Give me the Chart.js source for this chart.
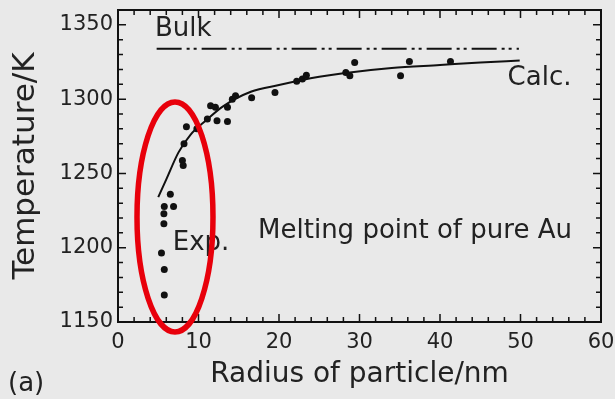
<!DOCTYPE html>
<html>
<head>
<meta charset="utf-8">
<script src="https://cdn.jsdelivr.net/npm/chart.js@4.4.0/dist/chart.umd.min.js"></script>
<style>
body{margin:0;background:#e9e9e9;}
</style>
</head>
<body>
<canvas id="mycanvas" width="615" height="399"></canvas>
<script>
// experimental points (radius nm, temperature K)
var expR = [5.4, 5.75, 5.75, 5.7, 5.7, 5.75, 6.9, 6.5, 8.0, 8.1, 8.2, 8.5, 9.8, 11.1, 11.5, 12.1, 12.3, 13.6, 13.6, 14.2, 14.6, 16.6, 19.5, 22.2, 22.9, 23.4, 28.3, 28.8, 29.4, 35.1, 36.2, 41.3];
var expT = [1196.5, 1185.4, 1168.1, 1216.2, 1222.9, 1227.8, 1227.8, 1236, 1258.7, 1255.3, 1270, 1281.5, 1280, 1286.7, 1295.6, 1294.5, 1285.5, 1285, 1294.5, 1300, 1302.3, 1301, 1304.5, 1312, 1313.5, 1316, 1318, 1315.8, 1324.7, 1315.8, 1325.3, 1325.3];
// calculated curve
var calcR = [5, 6, 7.5, 9, 11, 13, 16.5, 20, 25, 28, 34, 40, 45, 49.9];
var calcT = [1234, 1246, 1264, 1276, 1286, 1295, 1305, 1309.5, 1315, 1317.5, 1321, 1323, 1324.7, 1326];
// bulk melting point
var bulkR = [4.8, 49.8];
var bulkT = [1334, 1334];
var xTicks = [0, 10, 20, 30, 40, 50, 60];
var yTicks = [1150, 1200, 1250, 1300, 1350];

var notes = [
    {text: 'Bulk', x: 4.6, y: 1347},
    {text: 'Calc.', x: 48.4, y: 1314},
    {text: 'Exp.', x: 6.8, y: 1203},
    {text: 'Melting point of pure Au', x: 17.4, y: 1211}
];

function pts(xs, ys){
    var out = [];
    for (var i in xs) out.push({x: xs[i], y: ys[i]});
    return out;
}

var decor = {
    id: 'decor',
    beforeDraw: function(chart){
        var ctx = chart.ctx;
        ctx.save();
        ctx.fillStyle = '#e9e9e9';
        ctx.fillRect(0, 0, chart.width, chart.height);
        ctx.restore();
    },
    afterDatasetsDraw: function(chart){
        var ctx = chart.ctx, a = chart.chartArea, sx = chart.scales.x, sy = chart.scales.y;
        ctx.save();
        ctx.strokeStyle = '#111';
        ctx.lineWidth = 2;
        ctx.strokeRect(a.left, a.top, a.right - a.left, a.bottom - a.top);
        ctx.lineWidth = 1.5;
        ctx.beginPath();
        for (var v = 0; v <= 60; v += 2) {
            var px = sx.getPixelForValue(v);
            var len = v % 10 == 0 ? 8 : 5;
            ctx.moveTo(px, a.bottom); ctx.lineTo(px, a.bottom - len);
            ctx.moveTo(px, a.top); ctx.lineTo(px, a.top + len);
        }
        for (var t = 1150; t <= 1360; t += 10) {
            var py = sy.getPixelForValue(t);
            var l2 = t % 50 == 0 ? 8 : 5;
            ctx.moveTo(a.left, py); ctx.lineTo(a.left + l2, py);
            ctx.moveTo(a.right, py); ctx.lineTo(a.right - l2, py);
        }
        ctx.stroke();

        // annotations
        ctx.fillStyle = '#222';
        ctx.font = '26px "DejaVu Sans"';
        ctx.textBaseline = 'middle';
        ctx.textAlign = 'left';
        notes.forEach(function(n){
            ctx.fillText(n.text, sx.getPixelForValue(n.x), sy.getPixelForValue(n.y));
        });
        ctx.fillText('(a)', 8, 384);

        // red ellipse round the small particles
        var cx = sx.getPixelForValue(7.08), cy = sy.getPixelForValue(1220.7);
        var rx = sx.getPixelForValue(7.08 + 4.72) - cx;
        var ry = cy - sy.getPixelForValue(1220.7 + 77.4);
        ctx.strokeStyle = '#e8000b';
        ctx.lineWidth = 5.5;
        ctx.beginPath();
        ctx.ellipse(cx, cy, rx, ry, 0, 0, Math.PI * 2);
        ctx.stroke();
        ctx.restore();
    }
};

var ctx = document.getElementById('mycanvas');
var chart = new Chart(ctx, {
    type: 'scatter',
    data: {
        datasets: [
            {
                label: 'Bulk',
                type: 'line',
                data: pts(bulkR, bulkT),
                borderColor: '#111',
                borderWidth: 2,
                borderDash: [25, 5, 3, 4, 3, 5],
                pointRadius: 0,
                fill: false
            },
            {
                label: 'Calc.',
                type: 'line',
                data: pts(calcR, calcT),
                borderColor: '#111',
                borderWidth: 2,
                cubicInterpolationMode: 'monotone',
                pointRadius: 0,
                fill: false
            },
            {
                label: 'Exp.',
                data: pts(expR, expT),
                backgroundColor: '#111',
                borderColor: '#111',
                pointRadius: 3.5,
                pointBorderWidth: 0
            }
        ]
    },
    options: {
        responsive: false,
        animation: false,
        layout: {padding: {top: 10, right: 14, left: 0, bottom: 0}},
        plugins: {legend: {display: false}, tooltip: {enabled: false}},
        scales: {
            x: {
                type: 'linear', min: 0, max: 60,
                afterBuildTicks: function(s){ s.ticks = xTicks.map(function(v){ return {value: v}; }); },
                afterFit: function(s){ s.height = 77; s.paddingLeft = 0; s.paddingRight = 0; },
                grid: {display: false, drawTicks: false},
                border: {display: false},
                ticks: {color: '#222', font: {family: 'DejaVu Sans', size: 21}, padding: 8, maxRotation: 0,
                        callback: function(v){ return String(v); }},
                title: {display: true, text: 'Radius of particle/nm', color: '#222',
                        font: {family: 'DejaVu Sans', size: 28}, padding: {top: 0, bottom: 7}}
            },
            y: {
                type: 'linear', min: 1150, max: 1360,
                afterBuildTicks: function(s){ s.ticks = yTicks.map(function(v){ return {value: v}; }); },
                afterFit: function(s){ s.width = 118; s.paddingTop = 0; s.paddingBottom = 0; },
                grid: {display: false, drawTicks: false},
                border: {display: false},
                ticks: {color: '#222', font: {family: 'DejaVu Sans', size: 21}, padding: 5,
                        callback: function(v){ return String(v); }},
                title: {display: true, text: 'Temperature/K', color: '#222',
                        font: {family: 'DejaVu Sans', size: 31}, padding: {top: 7, bottom: 0}}
            }
        }
    },
    plugins: [decor]
});
</script>
</body>
</html>
